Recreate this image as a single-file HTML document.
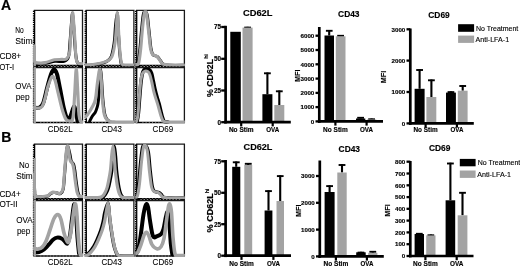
<!DOCTYPE html>
<html><head><meta charset="utf-8"><title>Figure</title>
<style>html,body{margin:0;padding:0;background:#fff}svg{display:block;filter:blur(0.35px)}</style></head>
<body>
<svg width="520" height="267" viewBox="0 0 520 267">
<rect width="520" height="267" fill="#fff"/>
<defs>
<clipPath id="cA00"><rect x="33.1" y="10.3" width="49.9" height="55.1"/></clipPath>
<clipPath id="cA01"><rect x="84.8" y="10.3" width="49.6" height="56.2"/></clipPath>
<clipPath id="cA02"><rect x="135.2" y="10.3" width="49.7" height="56.2"/></clipPath>
<clipPath id="cA10"><rect x="33.1" y="67.6" width="49.9" height="56.0"/></clipPath>
<clipPath id="cA11"><rect x="84.8" y="67.6" width="49.6" height="56.0"/></clipPath>
<clipPath id="cA12"><rect x="135.2" y="67.6" width="49.7" height="56.0"/></clipPath>
<clipPath id="cB00"><rect x="33.1" y="144.1" width="49.9" height="54.4"/></clipPath>
<clipPath id="cB01"><rect x="84.8" y="144.1" width="49.6" height="55.5"/></clipPath>
<clipPath id="cB02"><rect x="135.2" y="144.1" width="49.7" height="55.5"/></clipPath>
<clipPath id="cB10"><rect x="33.1" y="200.7" width="49.9" height="56.4"/></clipPath>
<clipPath id="cB11"><rect x="84.8" y="200.7" width="49.6" height="56.4"/></clipPath>
<clipPath id="cB12"><rect x="135.2" y="200.7" width="49.7" height="56.4"/></clipPath>
</defs>
<path d="M33.8 10.3H82.5V65.8" fill="none" stroke="#1a1a1a" stroke-width="1.3"/>
<line x1="33.3" y1="65.6" x2="83.0" y2="65.6" stroke="#000" stroke-width="1.5"/>
<line x1="34.6" y1="10.3" x2="34.6" y2="65.8" stroke="#000" stroke-width="1.3"/>
<line x1="33.6" y1="10.8" x2="33.6" y2="65.8" stroke="#000" stroke-width="1.4" stroke-dasharray="1.3 0.9"/>
<line x1="33.3" y1="66.8" x2="83.0" y2="66.8" stroke="#000" stroke-width="2.3"/>
<line x1="38.3" y1="66.7" x2="79.5" y2="66.7" stroke="#fff" stroke-width="0.8" stroke-dasharray="1.4 1.8" opacity="0.9"/>
<line x1="40.3" y1="65.6" x2="78.5" y2="65.6" stroke="#fff" stroke-width="0.6" stroke-dasharray="1 2.2" opacity="0.8"/>
<path d="M34.0 63.3 C35.8 63.3 41.5 63.6 45.0 63.3 C48.5 63.0 51.8 61.6 55.0 61.3 C58.2 61.0 61.8 62.1 64.0 61.3 C66.2 60.6 67.5 60.1 68.5 56.8 C69.5 53.6 69.5 47.2 70.0 41.9 C70.5 36.6 70.9 29.8 71.3 25.0 C71.7 20.1 72.1 13.0 72.5 13.0 C72.9 13.0 73.2 20.1 73.6 25.0 C74.0 29.8 74.3 36.7 74.7 41.9 C75.1 47.0 75.4 52.3 75.9 55.8 C76.4 59.3 76.5 61.4 77.5 62.8 C78.5 64.2 81.2 64.0 82.0 64.3" fill="none" stroke="#000" stroke-width="3.0" stroke-linejoin="round" stroke-linecap="round" clip-path="url(#cA00)"/>
<line x1="34.6" y1="46.0" x2="34.6" y2="66.3" stroke="#a3a3a3" stroke-width="2.6"/>
<line x1="33.5" y1="46.0" x2="33.5" y2="65.8" stroke="#333" stroke-width="1.2" stroke-dasharray="0.8 1.6"/>
<path d="M34.0 45.9 C34.1 48.2 34.2 57.0 34.5 59.8 C34.8 62.6 34.2 62.3 36.0 62.8 C37.8 63.3 41.9 63.1 45.0 62.6 C48.1 62.1 51.6 60.3 54.4 59.8 C57.2 59.3 60.0 59.6 62.0 59.4 C64.0 59.3 65.3 59.9 66.6 58.8 C67.8 57.7 68.8 56.0 69.5 52.8 C70.2 49.7 70.2 44.7 70.5 39.9 C70.8 35.1 71.2 28.5 71.6 24.0 C72.0 19.4 72.3 12.5 72.7 12.5 C73.1 12.5 73.4 19.4 73.8 24.0 C74.2 28.5 74.6 34.9 74.9 39.9 C75.2 44.9 75.4 50.2 75.7 53.8 C76.0 57.5 76.2 60.1 76.9 61.8 C77.6 63.5 79.1 63.5 80.0 63.8 C80.9 64.1 82.1 63.8 82.5 63.8" fill="none" stroke="#a3a3a3" stroke-width="3.1" stroke-linejoin="round" stroke-linecap="round" clip-path="url(#cA00)"/>
<path d="M85.5 10.3H133.9V65.8" fill="none" stroke="#1a1a1a" stroke-width="1.3"/>
<line x1="85.0" y1="65.6" x2="134.4" y2="65.6" stroke="#000" stroke-width="1.5"/>
<line x1="86.3" y1="10.3" x2="86.3" y2="65.8" stroke="#000" stroke-width="1.3"/>
<line x1="85.3" y1="10.8" x2="85.3" y2="65.8" stroke="#000" stroke-width="1.4" stroke-dasharray="1.3 0.9"/>
<line x1="85.0" y1="66.8" x2="134.4" y2="66.8" stroke="#000" stroke-width="2.3"/>
<line x1="90.0" y1="66.7" x2="130.9" y2="66.7" stroke="#fff" stroke-width="0.8" stroke-dasharray="1.4 1.8" opacity="0.9"/>
<line x1="92.0" y1="65.6" x2="129.9" y2="65.6" stroke="#fff" stroke-width="0.6" stroke-dasharray="1 2.2" opacity="0.8"/>
<path d="M84.6 65.6 C85.8 65.5 89.7 65.4 92.1 65.1 C94.5 64.8 97.1 64.3 99.1 63.9 C101.1 63.5 102.6 63.1 104.1 62.6 C105.6 62.0 106.9 61.4 108.1 60.5 C109.3 59.6 110.3 58.8 111.1 56.9 C111.9 55.1 112.5 52.3 113.1 49.3 C113.7 46.3 114.2 43.2 114.6 39.1 C115.0 35.0 115.1 29.2 115.6 24.8 C116.0 20.5 116.9 13.1 117.3 13.1 C117.7 13.1 117.8 20.5 118.0 24.8 C118.2 29.2 118.5 34.3 118.8 39.1 C119.1 43.9 119.4 49.5 119.8 53.4 C120.2 57.3 120.5 60.5 121.0 62.6 C121.5 64.6 120.8 64.9 122.8 65.4 C124.8 65.9 131.6 65.6 133.3 65.6" fill="none" stroke="#000" stroke-width="3.0" stroke-linejoin="round" stroke-linecap="round" clip-path="url(#cA01)"/>
<path d="M85.5 65.0 C86.8 64.9 90.6 64.8 93.0 64.5 C95.4 64.2 98.0 63.7 100.0 63.3 C102.0 62.8 103.5 62.5 105.0 61.9 C106.5 61.4 107.8 60.8 109.0 59.9 C110.2 59.0 111.2 58.2 112.0 56.3 C112.8 54.5 113.4 51.7 114.0 48.7 C114.6 45.7 115.1 42.6 115.5 38.5 C115.9 34.4 116.2 28.6 116.5 24.2 C116.8 19.9 117.0 12.5 117.3 12.5 C117.6 12.5 117.9 19.9 118.2 24.2 C118.5 28.6 118.7 33.7 119.0 38.5 C119.3 43.3 119.6 48.9 120.0 52.8 C120.4 56.7 120.7 59.9 121.2 61.9 C121.7 63.9 121.0 64.3 123.0 64.8 C125.0 65.3 131.8 65.0 133.5 65.0" fill="none" stroke="#a3a3a3" stroke-width="3.1" stroke-linejoin="round" stroke-linecap="round" clip-path="url(#cA01)"/>
<path d="M135.9 10.3H184.4V65.8" fill="none" stroke="#1a1a1a" stroke-width="1.3"/>
<line x1="135.4" y1="65.6" x2="184.9" y2="65.6" stroke="#000" stroke-width="1.5"/>
<line x1="136.7" y1="10.3" x2="136.7" y2="65.8" stroke="#000" stroke-width="1.3"/>
<line x1="135.7" y1="10.8" x2="135.7" y2="65.8" stroke="#000" stroke-width="1.4" stroke-dasharray="1.3 0.9"/>
<line x1="135.4" y1="66.8" x2="184.9" y2="66.8" stroke="#000" stroke-width="2.3"/>
<line x1="140.4" y1="66.7" x2="181.4" y2="66.7" stroke="#fff" stroke-width="0.8" stroke-dasharray="1.4 1.8" opacity="0.9"/>
<line x1="142.4" y1="65.6" x2="180.4" y2="65.6" stroke="#fff" stroke-width="0.6" stroke-dasharray="1 2.2" opacity="0.8"/>
<path d="M134.7 64.8 C135.2 64.6 136.9 66.1 137.7 63.8 C138.5 61.4 139.0 56.6 139.7 50.7 C140.4 44.8 141.0 34.8 141.7 28.5 C142.4 22.1 142.8 15.2 143.7 12.8 C144.6 10.4 146.1 11.4 147.0 14.3 C147.9 17.3 148.3 24.8 149.0 30.5 C149.7 36.2 150.3 44.6 151.0 48.6 C151.7 52.7 151.9 53.4 153.0 54.7 C154.1 56.0 156.2 55.7 157.5 56.7 C158.8 57.7 159.5 59.5 160.5 60.8 C161.5 62.0 161.8 63.5 163.5 64.3 C165.2 65.1 167.0 65.1 170.5 65.3 C174.0 65.5 182.2 65.3 184.5 65.3" fill="none" stroke="#000" stroke-width="3.0" stroke-linejoin="round" stroke-linecap="round" clip-path="url(#cA02)"/>
<path d="M135.5 64.5 C136.0 64.3 137.7 65.8 138.5 63.5 C139.3 61.1 139.8 56.2 140.5 50.4 C141.2 44.5 141.8 34.5 142.5 28.1 C143.2 21.8 143.8 14.9 144.5 12.5 C145.2 10.1 145.8 11.1 146.5 14.0 C147.2 17.0 147.8 24.4 148.5 30.2 C149.2 35.9 149.8 44.3 150.5 48.3 C151.2 52.4 151.4 53.1 152.5 54.4 C153.6 55.7 155.8 55.4 157.0 56.4 C158.2 57.4 159.0 59.2 160.0 60.5 C161.0 61.7 161.3 63.2 163.0 64.0 C164.7 64.7 166.5 64.8 170.0 65.0 C173.5 65.2 181.7 65.0 184.0 65.0" fill="none" stroke="#a3a3a3" stroke-width="3.2" stroke-linejoin="round" stroke-linecap="round" clip-path="url(#cA02)"/>
<path d="M33.8 67.6H82.5V122.7" fill="none" stroke="#1a1a1a" stroke-width="1.3"/>
<line x1="33.3" y1="122.5" x2="83.0" y2="122.5" stroke="#000" stroke-width="1.5"/>
<line x1="34.6" y1="67.6" x2="34.6" y2="122.7" stroke="#000" stroke-width="1.3"/>
<line x1="33.6" y1="68.1" x2="33.6" y2="122.7" stroke="#000" stroke-width="1.4" stroke-dasharray="1.3 0.9"/>
<line x1="40.3" y1="122.5" x2="78.5" y2="122.5" stroke="#fff" stroke-width="0.6" stroke-dasharray="1 2.2" opacity="0.8"/>
<path d="M34.0 107.7 C34.8 107.7 37.5 108.3 39.0 107.7 C40.5 107.0 41.7 106.8 43.0 103.6 C44.3 100.4 45.7 93.3 47.0 88.3 C48.3 83.4 49.8 77.2 51.0 74.1 C52.2 71.0 53.0 69.5 54.0 69.5 C55.0 69.5 56.0 71.0 57.0 74.1 C58.0 77.2 58.8 82.6 60.0 88.3 C61.2 94.1 62.7 103.4 64.0 108.7 C65.3 113.9 66.8 118.8 68.0 119.9 C69.2 120.9 70.0 117.0 71.0 114.8 C72.0 112.6 73.2 107.0 74.0 106.6 C74.8 106.3 75.4 110.3 76.0 112.7 C76.6 115.2 77.3 120.0 77.6 121.4" fill="none" stroke="#000" stroke-width="4.0" stroke-linejoin="round" stroke-linecap="round" clip-path="url(#cA10)"/>
<line x1="34.6" y1="67.0" x2="34.6" y2="123.2" stroke="#a3a3a3" stroke-width="2.6"/>
<line x1="33.5" y1="67.0" x2="33.5" y2="122.7" stroke="#333" stroke-width="1.2" stroke-dasharray="0.8 1.6"/>
<path d="M34.0 107.7 C34.7 107.7 36.7 108.3 38.0 108.2 C39.3 108.0 40.8 108.3 42.0 106.6 C43.2 105.0 44.0 101.9 45.0 98.5 C46.0 95.1 46.8 89.9 48.0 86.3 C49.2 82.7 50.8 77.7 52.0 76.6 C53.2 75.6 54.0 77.6 55.0 80.2 C56.0 82.8 56.8 87.7 58.0 92.4 C59.2 97.1 60.7 104.2 62.0 108.7 C63.3 113.2 64.7 117.3 66.0 119.4 C67.3 121.4 68.8 121.1 70.0 120.9 C71.2 120.6 72.2 122.6 73.0 117.8 C73.8 113.1 74.2 100.6 74.8 92.4 C75.3 84.2 75.8 68.5 76.3 68.5 C76.8 68.5 77.3 84.7 77.8 92.4 C78.2 100.1 78.5 109.9 79.0 114.8 C79.5 119.6 79.9 120.2 80.5 121.4 C81.1 122.6 82.2 121.8 82.5 121.9" fill="none" stroke="#a3a3a3" stroke-width="3.2" stroke-linejoin="round" stroke-linecap="round" clip-path="url(#cA10)"/>
<path d="M85.5 67.6H133.9V122.7" fill="none" stroke="#1a1a1a" stroke-width="1.3"/>
<line x1="85.0" y1="122.5" x2="134.4" y2="122.5" stroke="#000" stroke-width="1.5"/>
<line x1="86.3" y1="67.6" x2="86.3" y2="122.7" stroke="#000" stroke-width="1.3"/>
<line x1="85.3" y1="68.1" x2="85.3" y2="122.7" stroke="#000" stroke-width="1.4" stroke-dasharray="1.3 0.9"/>
<line x1="92.0" y1="122.5" x2="129.9" y2="122.5" stroke="#fff" stroke-width="0.6" stroke-dasharray="1 2.2" opacity="0.8"/>
<path d="M89.6 121.3 C90.0 120.5 91.2 118.0 92.1 116.5 C93.0 115.0 94.3 114.0 95.2 112.4 C96.1 110.9 96.7 108.9 97.2 107.2 C97.7 105.5 98.0 103.8 98.2 102.1 C98.5 100.4 98.5 99.8 98.7 97.0 C98.9 94.2 99.1 89.8 99.3 85.3 C99.5 80.8 99.7 72.2 100.0 70.0 C100.3 67.8 100.6 70.2 100.9 72.1 C101.2 73.9 101.5 78.0 101.7 81.2 C101.9 84.5 102.1 88.7 102.3 91.4 C102.5 94.1 102.5 94.9 102.7 97.5 C102.9 100.2 103.4 104.4 103.7 107.2 C104.0 110.0 104.3 112.4 104.8 114.4 C105.3 116.3 105.9 117.9 106.8 119.1 C107.7 120.4 109.5 121.2 110.0 121.6" fill="none" stroke="#000" stroke-width="3.0" stroke-linejoin="round" stroke-linecap="round" clip-path="url(#cA11)"/>
<path d="M85.5 117.1 C85.8 116.7 86.9 115.4 87.5 114.7 C88.1 113.9 88.3 113.6 89.1 112.4 C89.9 111.2 91.2 109.0 92.1 107.3 C93.0 105.6 94.0 104.1 94.7 102.1 C95.4 100.2 95.7 97.8 96.0 95.5 C96.3 93.2 96.5 90.9 96.8 88.4 C97.1 85.8 97.4 82.9 97.8 80.2 C98.2 77.5 98.7 73.9 99.0 72.1 C99.3 70.2 99.5 69.0 99.8 69.0 C100.1 69.0 100.3 70.0 100.6 72.1 C100.8 74.1 101.1 78.0 101.3 81.2 C101.5 84.5 101.6 88.7 101.8 91.4 C102.0 94.1 102.0 94.9 102.2 97.5 C102.4 100.2 102.9 104.4 103.2 107.2 C103.5 110.0 103.8 112.4 104.3 114.4 C104.8 116.3 105.3 117.8 106.3 118.9 C107.3 120.1 108.7 121.0 110.3 121.5 C111.9 122.0 112.1 121.9 116.0 122.0 C119.9 122.1 130.9 122.0 133.9 122.0" fill="none" stroke="#a3a3a3" stroke-width="3.2" stroke-linejoin="round" stroke-linecap="round" clip-path="url(#cA11)"/>
<path d="M135.9 67.6H184.4V122.7" fill="none" stroke="#1a1a1a" stroke-width="1.3"/>
<line x1="135.4" y1="122.5" x2="184.9" y2="122.5" stroke="#000" stroke-width="1.5"/>
<line x1="136.7" y1="67.6" x2="136.7" y2="122.7" stroke="#000" stroke-width="1.3"/>
<line x1="135.7" y1="68.1" x2="135.7" y2="122.7" stroke="#000" stroke-width="1.4" stroke-dasharray="1.3 0.9"/>
<line x1="142.4" y1="122.5" x2="180.4" y2="122.5" stroke="#fff" stroke-width="0.6" stroke-dasharray="1 2.2" opacity="0.8"/>
<path d="M137.0 121.5 C137.2 120.2 137.9 118.0 138.3 113.8 C138.8 109.7 139.2 102.1 139.7 96.5 C140.2 90.9 140.6 84.3 141.2 80.2 C141.8 76.0 142.3 73.4 143.0 71.5 C143.7 69.6 144.5 69.3 145.5 69.0 C146.5 68.7 148.0 68.8 149.0 69.5 C150.0 70.2 150.8 71.1 151.5 73.0 C152.2 75.0 152.7 78.5 153.3 81.2 C153.9 83.9 154.4 86.7 155.0 89.4 C155.6 92.0 156.3 94.6 157.0 97.0 C157.7 99.4 158.3 101.2 159.0 103.6 C159.7 106.1 160.4 109.3 161.0 111.8 C161.6 114.3 162.2 116.8 162.8 118.4 C163.4 120.1 163.6 121.2 164.5 121.8 C165.4 122.4 167.4 122.0 168.0 122.0" fill="none" stroke="#000" stroke-width="3.6" stroke-linejoin="round" stroke-linecap="round" clip-path="url(#cA12)"/>
<path d="M136.4 121.5 C136.6 120.6 137.3 119.7 137.8 115.9 C138.3 112.1 138.7 104.1 139.2 98.5 C139.7 92.9 140.1 86.3 140.6 82.2 C141.1 78.1 141.5 75.9 142.2 74.1 C142.8 72.2 143.5 71.7 144.5 71.3 C145.5 70.9 147.1 71.2 148.0 71.8 C148.9 72.4 149.4 73.3 150.0 75.1 C150.6 76.8 151.2 79.7 151.8 82.2 C152.4 84.8 152.9 87.8 153.5 90.4 C154.1 92.9 154.8 95.3 155.5 97.5 C156.2 99.7 156.8 101.4 157.5 103.6 C158.2 105.8 158.8 108.5 159.5 110.8 C160.2 113.1 160.8 115.7 161.5 117.4 C162.2 119.2 162.4 120.5 163.5 121.3 C164.6 122.1 164.5 121.9 168.0 122.0 C171.5 122.1 181.7 122.0 184.4 122.0" fill="none" stroke="#a3a3a3" stroke-width="3.0" stroke-linejoin="round" stroke-linecap="round" clip-path="url(#cA12)"/>
<path d="M33.8 144.1H82.5V198.9" fill="none" stroke="#1a1a1a" stroke-width="1.3"/>
<line x1="33.3" y1="198.7" x2="83.0" y2="198.7" stroke="#000" stroke-width="1.5"/>
<line x1="34.6" y1="144.1" x2="34.6" y2="198.9" stroke="#000" stroke-width="1.3"/>
<line x1="33.6" y1="144.6" x2="33.6" y2="198.9" stroke="#000" stroke-width="1.4" stroke-dasharray="1.3 0.9"/>
<line x1="33.3" y1="199.9" x2="83.0" y2="199.9" stroke="#000" stroke-width="2.3"/>
<line x1="38.3" y1="199.8" x2="79.5" y2="199.8" stroke="#fff" stroke-width="0.8" stroke-dasharray="1.4 1.8" opacity="0.9"/>
<line x1="40.3" y1="198.7" x2="78.5" y2="198.7" stroke="#fff" stroke-width="0.6" stroke-dasharray="1 2.2" opacity="0.8"/>
<path d="M34.2 174.6 C34.3 177.3 34.4 187.5 34.7 191.1 C35.0 194.8 34.1 195.6 36.2 196.5 C38.3 197.4 44.9 196.7 47.2 196.3 C49.5 195.9 49.2 194.7 50.2 194.1 C51.2 193.4 52.0 192.6 53.2 192.4 C54.4 192.2 56.0 192.9 57.2 193.1 C58.4 193.3 59.2 194.3 60.2 193.7 C61.2 193.0 62.4 192.9 63.2 189.2 C64.0 185.5 64.2 177.8 64.8 171.6 C65.3 165.5 66.0 156.4 66.5 152.1 C67.0 147.9 67.2 146.0 67.8 146.3 C68.4 146.6 69.3 151.7 69.9 154.1 C70.5 156.5 70.6 159.2 71.2 160.9 C71.8 162.6 73.0 162.8 73.6 164.4 C74.2 166.1 74.5 167.8 74.9 170.7 C75.3 173.5 75.7 177.8 76.2 181.4 C76.7 185.0 77.3 189.6 77.9 192.1 C78.5 194.6 79.0 195.7 79.9 196.5 C80.8 197.3 82.8 196.9 83.4 197.0" fill="none" stroke="#000" stroke-width="3.0" stroke-linejoin="round" stroke-linecap="round" clip-path="url(#cB00)"/>
<line x1="34.6" y1="158.0" x2="34.6" y2="199.4" stroke="#a3a3a3" stroke-width="2.6"/>
<line x1="33.5" y1="158.0" x2="33.5" y2="198.9" stroke="#333" stroke-width="1.2" stroke-dasharray="0.8 1.6"/>
<path d="M34.0 174.3 C34.1 177.0 34.2 187.2 34.5 190.8 C34.8 194.5 33.9 195.4 36.0 196.2 C38.1 197.1 44.7 196.4 47.0 196.0 C49.3 195.6 49.0 194.4 50.0 193.8 C51.0 193.1 51.8 192.3 53.0 192.1 C54.2 192.0 55.8 192.6 57.0 192.8 C58.2 193.0 59.0 194.0 60.0 193.4 C61.0 192.7 62.2 192.6 63.0 188.9 C63.8 185.2 64.0 177.5 64.6 171.3 C65.1 165.2 65.8 156.1 66.3 151.8 C66.8 147.6 67.3 145.7 67.8 146.0 C68.2 146.3 68.6 151.4 69.0 153.8 C69.4 156.2 69.7 158.9 70.3 160.6 C70.9 162.3 72.1 162.5 72.7 164.1 C73.3 165.8 73.6 167.5 74.0 170.4 C74.4 173.2 74.8 177.5 75.3 181.1 C75.8 184.7 76.4 189.3 77.0 191.8 C77.6 194.3 78.1 195.4 79.0 196.2 C79.9 197.0 81.9 196.6 82.5 196.7" fill="none" stroke="#a3a3a3" stroke-width="3.2" stroke-linejoin="round" stroke-linecap="round" clip-path="url(#cB00)"/>
<path d="M85.5 144.1H133.9V198.9" fill="none" stroke="#1a1a1a" stroke-width="1.3"/>
<line x1="85.0" y1="198.7" x2="134.4" y2="198.7" stroke="#000" stroke-width="1.5"/>
<line x1="86.3" y1="144.1" x2="86.3" y2="198.9" stroke="#000" stroke-width="1.3"/>
<line x1="85.3" y1="144.6" x2="85.3" y2="198.9" stroke="#000" stroke-width="1.4" stroke-dasharray="1.3 0.9"/>
<line x1="85.0" y1="199.9" x2="134.4" y2="199.9" stroke="#000" stroke-width="2.3"/>
<line x1="90.0" y1="199.8" x2="130.9" y2="199.8" stroke="#fff" stroke-width="0.8" stroke-dasharray="1.4 1.8" opacity="0.9"/>
<line x1="92.0" y1="198.7" x2="129.9" y2="198.7" stroke="#fff" stroke-width="0.6" stroke-dasharray="1 2.2" opacity="0.8"/>
<path d="M87.0 197.9 C89.1 197.9 96.8 197.9 99.5 197.7 C102.2 197.5 102.3 197.7 103.5 196.9 C104.7 196.1 105.7 194.5 106.5 192.9 C107.3 191.4 107.9 190.1 108.6 187.8 C109.3 185.4 109.9 182.0 110.5 179.0 C111.1 176.1 111.5 173.9 112.0 170.1 C112.5 166.2 112.8 160.1 113.2 156.1 C113.6 152.2 114.1 146.2 114.5 146.2 C114.9 146.2 115.3 152.2 115.7 156.1 C116.1 160.1 116.3 166.1 116.7 170.1 C117.1 174.0 117.5 177.0 117.9 180.0 C118.3 183.0 118.7 185.6 119.2 188.0 C119.7 190.4 120.3 192.8 121.0 194.4 C121.7 196.0 122.4 196.8 123.5 197.4 C124.6 198.0 125.6 197.8 127.5 197.9 C129.4 198.0 133.8 197.9 135.0 197.9" fill="none" stroke="#000" stroke-width="3.0" stroke-linejoin="round" stroke-linecap="round" clip-path="url(#cB01)"/>
<path d="M85.5 197.7 C87.6 197.7 95.2 197.7 98.0 197.5 C100.8 197.3 100.8 197.5 102.0 196.7 C103.2 195.9 104.2 194.3 105.0 192.7 C105.8 191.2 106.4 189.9 107.1 187.6 C107.8 185.2 108.4 181.8 109.0 178.8 C109.6 175.9 110.0 173.7 110.5 169.9 C111.0 166.1 111.3 159.9 111.7 155.9 C112.1 152.0 112.6 146.0 113.0 146.0 C113.4 146.0 113.8 152.0 114.2 155.9 C114.6 159.9 114.8 165.9 115.2 169.9 C115.6 173.8 116.0 176.8 116.4 179.8 C116.8 182.8 117.2 185.4 117.7 187.8 C118.2 190.2 118.8 192.6 119.5 194.2 C120.2 195.8 120.9 196.6 122.0 197.2 C123.1 197.8 124.1 197.6 126.0 197.7 C127.9 197.8 132.2 197.7 133.5 197.7" fill="none" stroke="#a3a3a3" stroke-width="3.2" stroke-linejoin="round" stroke-linecap="round" clip-path="url(#cB01)"/>
<path d="M135.9 144.1H184.4V198.9" fill="none" stroke="#1a1a1a" stroke-width="1.3"/>
<line x1="135.4" y1="198.7" x2="184.9" y2="198.7" stroke="#000" stroke-width="1.5"/>
<line x1="136.7" y1="144.1" x2="136.7" y2="198.9" stroke="#000" stroke-width="1.3"/>
<line x1="135.7" y1="144.6" x2="135.7" y2="198.9" stroke="#000" stroke-width="1.4" stroke-dasharray="1.3 0.9"/>
<line x1="135.4" y1="199.9" x2="184.9" y2="199.9" stroke="#000" stroke-width="2.3"/>
<line x1="140.4" y1="199.8" x2="181.4" y2="199.8" stroke="#fff" stroke-width="0.8" stroke-dasharray="1.4 1.8" opacity="0.9"/>
<line x1="142.4" y1="198.7" x2="180.4" y2="198.7" stroke="#fff" stroke-width="0.6" stroke-dasharray="1 2.2" opacity="0.8"/>
<path d="M134.6 197.2 C134.9 197.0 135.9 197.9 136.6 195.7 C137.3 193.5 137.9 189.4 138.6 183.8 C139.3 178.1 139.9 168.0 140.6 161.9 C141.3 155.8 141.8 149.7 142.6 147.0 C143.4 144.3 144.5 144.7 145.5 145.5 C146.5 146.3 147.6 147.6 148.4 152.0 C149.2 156.4 149.7 166.0 150.4 171.8 C151.1 177.6 151.7 183.5 152.4 186.8 C153.1 190.0 153.3 190.3 154.4 191.2 C155.5 192.2 157.7 192.0 158.9 192.5 C160.1 193.1 160.6 193.7 161.4 194.5 C162.2 195.3 162.3 196.7 163.9 197.2 C165.5 197.7 167.4 197.6 170.9 197.7 C174.4 197.8 182.6 197.7 184.9 197.7" fill="none" stroke="#000" stroke-width="3.2" stroke-linejoin="round" stroke-linecap="round" clip-path="url(#cB02)"/>
<path d="M135.5 197.2 C135.8 197.0 136.8 197.9 137.5 195.7 C138.2 193.5 138.8 189.4 139.5 183.8 C140.2 178.1 140.8 168.0 141.5 161.9 C142.2 155.8 142.8 149.7 143.5 147.0 C144.2 144.3 144.8 144.7 145.5 145.5 C146.2 146.3 146.8 147.6 147.5 152.0 C148.2 156.4 148.8 166.0 149.5 171.8 C150.2 177.6 150.8 183.5 151.5 186.8 C152.2 190.0 152.4 190.3 153.5 191.2 C154.6 192.2 156.8 192.0 158.0 192.5 C159.2 193.1 159.7 193.7 160.5 194.5 C161.3 195.3 161.4 196.7 163.0 197.2 C164.6 197.7 166.5 197.6 170.0 197.7 C173.5 197.8 181.7 197.7 184.0 197.7" fill="none" stroke="#a3a3a3" stroke-width="3.0" stroke-linejoin="round" stroke-linecap="round" clip-path="url(#cB02)"/>
<path d="M33.8 200.7H82.5V256.2" fill="none" stroke="#1a1a1a" stroke-width="1.3"/>
<line x1="33.3" y1="256.0" x2="83.0" y2="256.0" stroke="#000" stroke-width="1.5"/>
<line x1="34.6" y1="200.7" x2="34.6" y2="256.2" stroke="#000" stroke-width="1.3"/>
<line x1="33.6" y1="201.2" x2="33.6" y2="256.2" stroke="#000" stroke-width="1.4" stroke-dasharray="1.3 0.9"/>
<line x1="40.3" y1="256.0" x2="78.5" y2="256.0" stroke="#fff" stroke-width="0.6" stroke-dasharray="1 2.2" opacity="0.8"/>
<path d="M34.0 252.6 C34.8 252.5 37.3 252.6 39.0 252.1 C40.7 251.6 42.3 250.8 44.0 249.5 C45.7 248.2 47.5 246.0 49.0 244.3 C50.5 242.7 51.7 240.8 53.0 239.7 C54.3 238.6 55.5 237.8 57.0 237.6 C58.5 237.4 60.7 238.0 62.0 238.7 C63.3 239.3 64.1 241.0 65.0 241.8 C65.9 242.5 66.7 244.4 67.5 243.3 C68.3 242.2 69.2 239.2 70.0 235.0 C70.8 230.9 71.3 223.6 72.0 218.5 C72.7 213.4 73.4 205.6 74.0 204.5 C74.6 203.5 75.2 206.8 75.8 212.3 C76.4 217.7 76.9 230.2 77.4 237.1 C77.9 244.0 78.7 250.9 79.0 253.6" fill="none" stroke="#000" stroke-width="3.9" stroke-linejoin="round" stroke-linecap="round" clip-path="url(#cB10)"/>
<line x1="34.6" y1="200.0" x2="34.6" y2="256.7" stroke="#a3a3a3" stroke-width="2.6"/>
<line x1="33.5" y1="200.0" x2="33.5" y2="256.2" stroke="#333" stroke-width="1.2" stroke-dasharray="0.8 1.6"/>
<path d="M34.0 248.5 C34.7 248.6 36.7 249.2 38.0 249.0 C39.3 248.8 40.7 248.7 42.0 247.4 C43.3 246.1 44.7 244.2 46.0 241.2 C47.3 238.3 48.7 233.7 50.0 229.9 C51.3 226.1 52.7 221.0 54.0 218.5 C55.3 215.9 56.8 214.5 58.0 214.7 C59.2 214.8 60.0 216.5 61.0 219.5 C62.0 222.6 62.9 229.2 64.0 233.0 C65.1 236.8 66.8 241.6 67.8 242.3 C68.8 243.0 69.2 240.7 70.0 237.1 C70.8 233.5 71.7 226.1 72.5 220.5 C73.3 215.0 74.3 205.4 75.0 204.0 C75.7 202.6 76.2 206.8 76.7 212.3 C77.2 217.8 77.8 230.2 78.3 237.1 C78.8 244.0 79.3 250.6 80.0 253.6 C80.7 256.7 82.1 254.9 82.5 255.2" fill="none" stroke="#a3a3a3" stroke-width="3.7" stroke-linejoin="round" stroke-linecap="round" clip-path="url(#cB10)"/>
<path d="M85.5 200.7H133.9V256.2" fill="none" stroke="#1a1a1a" stroke-width="1.3"/>
<line x1="85.0" y1="256.0" x2="134.4" y2="256.0" stroke="#000" stroke-width="1.5"/>
<line x1="86.3" y1="200.7" x2="86.3" y2="256.2" stroke="#000" stroke-width="1.3"/>
<line x1="85.3" y1="201.2" x2="85.3" y2="256.2" stroke="#000" stroke-width="1.4" stroke-dasharray="1.3 0.9"/>
<line x1="92.0" y1="256.0" x2="129.9" y2="256.0" stroke="#fff" stroke-width="0.6" stroke-dasharray="1 2.2" opacity="0.8"/>
<path d="M84.1 255.8 C84.5 255.6 85.7 255.4 86.6 254.8 C87.5 254.1 88.4 253.5 89.6 252.1 C90.8 250.8 92.3 248.8 93.6 246.7 C94.8 244.6 95.9 242.3 97.1 239.6 C98.3 236.8 99.8 233.1 100.8 230.2 C101.8 227.2 102.4 224.8 103.1 221.8 C103.8 218.9 104.0 215.5 104.8 212.4 C105.6 209.3 107.3 203.0 108.0 203.0 C108.7 203.0 108.8 209.3 109.1 212.4 C109.4 215.5 109.7 218.9 110.1 221.8 C110.5 224.8 110.8 227.2 111.3 230.2 C111.8 233.1 112.2 236.6 112.8 239.6 C113.3 242.6 113.9 245.6 114.6 248.0 C115.3 250.3 115.9 252.4 116.8 253.7 C117.7 255.0 117.0 255.5 119.8 255.8 C122.5 256.1 131.1 255.8 133.3 255.8" fill="none" stroke="#000" stroke-width="3.4" stroke-linejoin="round" stroke-linecap="round" clip-path="url(#cB11)"/>
<path d="M85.5 255.8 C85.9 255.6 87.1 255.4 88.0 254.8 C88.9 254.1 89.8 253.5 91.0 252.1 C92.2 250.8 93.8 248.8 95.0 246.7 C96.2 244.6 97.3 242.3 98.5 239.6 C99.7 236.8 101.2 233.1 102.2 230.2 C103.2 227.2 103.8 224.8 104.5 221.8 C105.2 218.9 105.6 215.5 106.2 212.4 C106.8 209.3 107.5 203.0 108.0 203.0 C108.5 203.0 108.9 209.3 109.3 212.4 C109.7 215.5 109.9 218.9 110.3 221.8 C110.7 224.8 111.0 227.2 111.5 230.2 C112.0 233.1 112.5 236.6 113.0 239.6 C113.5 242.6 114.1 245.6 114.8 248.0 C115.5 250.3 116.1 252.4 117.0 253.7 C117.9 255.0 117.2 255.5 120.0 255.8 C122.8 256.1 131.2 255.8 133.5 255.8" fill="none" stroke="#a3a3a3" stroke-width="3.2" stroke-linejoin="round" stroke-linecap="round" clip-path="url(#cB11)"/>
<path d="M135.9 200.7H184.4V256.2" fill="none" stroke="#1a1a1a" stroke-width="1.3"/>
<line x1="135.4" y1="256.0" x2="184.9" y2="256.0" stroke="#000" stroke-width="1.5"/>
<line x1="136.7" y1="200.7" x2="136.7" y2="256.2" stroke="#000" stroke-width="1.3"/>
<line x1="135.7" y1="201.2" x2="135.7" y2="256.2" stroke="#000" stroke-width="1.4" stroke-dasharray="1.3 0.9"/>
<line x1="142.4" y1="256.0" x2="180.4" y2="256.0" stroke="#fff" stroke-width="0.6" stroke-dasharray="1 2.2" opacity="0.8"/>
<path d="M136.0 253.9 C136.4 253.1 137.7 252.2 138.5 248.7 C139.3 245.3 140.2 238.8 141.0 233.1 C141.8 227.4 142.7 219.2 143.5 214.4 C144.3 209.6 145.2 205.7 146.0 204.5 C146.8 203.3 147.3 204.4 148.0 207.1 C148.7 209.8 149.2 215.8 150.0 220.6 C150.8 225.5 151.8 233.6 153.0 236.2 C154.2 238.8 155.7 236.6 157.0 236.2 C158.3 235.9 159.9 235.4 161.0 234.2 C162.1 232.9 162.7 231.9 163.5 229.0 C164.3 226.0 165.3 219.2 166.0 216.5 C166.7 213.7 167.1 211.3 167.7 212.3 C168.2 213.3 168.8 217.5 169.3 222.7 C169.8 227.9 170.3 238.2 170.8 243.5 C171.3 248.8 172.1 252.6 172.3 254.5" fill="none" stroke="#000" stroke-width="4.0" stroke-linejoin="round" stroke-linecap="round" clip-path="url(#cB12)"/>
<path d="M135.5 253.9 C135.9 253.6 137.1 253.4 138.0 251.9 C138.9 250.3 140.0 247.3 141.0 244.6 C142.0 241.8 143.1 237.3 144.0 235.2 C144.9 233.2 145.8 232.1 146.6 232.3 C147.4 232.5 148.1 234.2 149.0 236.2 C149.9 238.3 150.7 242.5 152.0 244.6 C153.3 246.7 155.3 248.4 156.8 248.7 C158.3 249.1 159.8 248.4 161.0 246.7 C162.2 244.9 163.1 242.7 164.0 238.3 C164.9 234.0 165.8 226.0 166.5 220.6 C167.2 215.3 167.9 208.8 168.5 206.1 C169.1 203.4 169.5 203.5 170.0 204.5 C170.5 205.5 171.0 206.8 171.5 212.3 C172.0 217.8 172.4 230.3 173.0 237.3 C173.6 244.2 174.2 250.9 175.0 253.9 C175.8 257.0 176.5 255.2 178.0 255.5 C179.5 255.8 183.0 255.5 184.0 255.5" fill="none" stroke="#a3a3a3" stroke-width="3.6" stroke-linejoin="round" stroke-linecap="round" clip-path="url(#cB12)"/>
<text x="0.9" y="10.1" font-size="14.00" font-family="Liberation Sans, Arial, sans-serif" text-anchor="start" font-weight="bold" fill="#000" stroke="#000" stroke-width="0.20">A</text>
<text x="1.2" y="142.0" font-size="14.00" font-family="Liberation Sans, Arial, sans-serif" text-anchor="start" font-weight="bold" fill="#000" stroke="#000" stroke-width="0.20">B</text>
<text x="47.8" y="132.2" font-size="8.20" font-family="Liberation Sans, Arial, sans-serif" text-anchor="start" font-weight="normal" fill="#000" textLength="24.8" lengthAdjust="spacingAndGlyphs" stroke="#000" stroke-width="0.08">CD62L</text>
<text x="101.5" y="132.2" font-size="8.20" font-family="Liberation Sans, Arial, sans-serif" text-anchor="start" font-weight="normal" fill="#000" textLength="20.3" lengthAdjust="spacingAndGlyphs" stroke="#000" stroke-width="0.08">CD43</text>
<text x="152.6" y="132.2" font-size="8.20" font-family="Liberation Sans, Arial, sans-serif" text-anchor="start" font-weight="normal" fill="#000" textLength="20.5" lengthAdjust="spacingAndGlyphs" stroke="#000" stroke-width="0.08">CD69</text>
<text x="47.8" y="265.4" font-size="8.20" font-family="Liberation Sans, Arial, sans-serif" text-anchor="start" font-weight="normal" fill="#000" textLength="24.8" lengthAdjust="spacingAndGlyphs" stroke="#000" stroke-width="0.08">CD62L</text>
<text x="101.5" y="265.4" font-size="8.20" font-family="Liberation Sans, Arial, sans-serif" text-anchor="start" font-weight="normal" fill="#000" textLength="20.3" lengthAdjust="spacingAndGlyphs" stroke="#000" stroke-width="0.08">CD43</text>
<text x="152.6" y="265.4" font-size="8.20" font-family="Liberation Sans, Arial, sans-serif" text-anchor="start" font-weight="normal" fill="#000" textLength="20.5" lengthAdjust="spacingAndGlyphs" stroke="#000" stroke-width="0.08">CD69</text>
<text x="15.3" y="33.0" font-size="8.30" font-family="Liberation Sans, Arial, sans-serif" text-anchor="start" font-weight="normal" fill="#000" textLength="8.5" lengthAdjust="spacingAndGlyphs" stroke="#000" stroke-width="0.08">No</text>
<text x="15.3" y="44.3" font-size="8.30" font-family="Liberation Sans, Arial, sans-serif" text-anchor="start" font-weight="normal" fill="#000" textLength="17.3" lengthAdjust="spacingAndGlyphs" stroke="#000" stroke-width="0.08">Stim</text>
<text x="-0.6" y="58.9" font-size="8.30" font-family="Liberation Sans, Arial, sans-serif" text-anchor="start" font-weight="normal" fill="#000" textLength="21.9" lengthAdjust="spacingAndGlyphs" stroke="#000" stroke-width="0.08">CD8+</text>
<text x="-0.6" y="69.9" font-size="8.30" font-family="Liberation Sans, Arial, sans-serif" text-anchor="start" font-weight="normal" fill="#000" textLength="14.6" lengthAdjust="spacingAndGlyphs" stroke="#000" stroke-width="0.08">OT-I</text>
<text x="15.3" y="88.9" font-size="8.30" font-family="Liberation Sans, Arial, sans-serif" text-anchor="start" font-weight="normal" fill="#000" textLength="16.2" lengthAdjust="spacingAndGlyphs" stroke="#000" stroke-width="0.08">OVA</text>
<text x="15.7" y="100.2" font-size="8.30" font-family="Liberation Sans, Arial, sans-serif" text-anchor="start" font-weight="normal" fill="#000" textLength="14.0" lengthAdjust="spacingAndGlyphs" stroke="#000" stroke-width="0.08">pep</text>
<text x="19.0" y="167.5" font-size="8.30" font-family="Liberation Sans, Arial, sans-serif" text-anchor="start" font-weight="normal" fill="#000" textLength="10.2" lengthAdjust="spacingAndGlyphs" stroke="#000" stroke-width="0.08">No</text>
<text x="16.2" y="179.2" font-size="8.30" font-family="Liberation Sans, Arial, sans-serif" text-anchor="start" font-weight="normal" fill="#000" textLength="16.4" lengthAdjust="spacingAndGlyphs" stroke="#000" stroke-width="0.08">Stim</text>
<text x="-0.6" y="197.2" font-size="8.30" font-family="Liberation Sans, Arial, sans-serif" text-anchor="start" font-weight="normal" fill="#000" textLength="21.3" lengthAdjust="spacingAndGlyphs" stroke="#000" stroke-width="0.08">CD4+</text>
<text x="-0.6" y="207.3" font-size="8.30" font-family="Liberation Sans, Arial, sans-serif" text-anchor="start" font-weight="normal" fill="#000" textLength="18.1" lengthAdjust="spacingAndGlyphs" stroke="#000" stroke-width="0.08">OT-II</text>
<text x="16.2" y="223.4" font-size="8.30" font-family="Liberation Sans, Arial, sans-serif" text-anchor="start" font-weight="normal" fill="#000" textLength="16.4" lengthAdjust="spacingAndGlyphs" stroke="#000" stroke-width="0.08">OVA</text>
<text x="16.9" y="234.2" font-size="8.30" font-family="Liberation Sans, Arial, sans-serif" text-anchor="start" font-weight="normal" fill="#000" textLength="13.4" lengthAdjust="spacingAndGlyphs" stroke="#000" stroke-width="0.08">pep</text>
<rect x="230.3" y="31.8" width="10.5" height="90.4" fill="#000"/>
<line x1="247.6" y1="27.6" x2="247.6" y2="26.8" stroke="#000" stroke-width="2.1"/>
<line x1="244.2" y1="27.6" x2="251.0" y2="27.6" stroke="#000" stroke-width="1.9"/>
<rect x="242.5" y="27.6" width="10.1" height="94.6" fill="#a3a3a3"/>
<line x1="267.4" y1="94.2" x2="267.4" y2="72.5" stroke="#000" stroke-width="2.1"/>
<line x1="264.0" y1="73.3" x2="270.8" y2="73.3" stroke="#000" stroke-width="1.9"/>
<rect x="262.4" y="94.2" width="10.0" height="28.0" fill="#000"/>
<line x1="279.3" y1="105.0" x2="279.3" y2="90.5" stroke="#000" stroke-width="2.1"/>
<line x1="275.9" y1="91.3" x2="282.7" y2="91.3" stroke="#000" stroke-width="1.9"/>
<rect x="274.3" y="105.0" width="10.0" height="17.2" fill="#a3a3a3"/>
<line x1="225.6" y1="25.8" x2="225.6" y2="123.5" stroke="#000" stroke-width="2.7"/>
<line x1="224.2" y1="122.2" x2="290.8" y2="122.2" stroke="#000" stroke-width="2.7"/>
<line x1="221.2" y1="27.0" x2="225.6" y2="27.0" stroke="#000" stroke-width="2.3"/>
<text x="221.1" y="29.3" font-size="6.40" font-family="Liberation Sans, Arial, sans-serif" text-anchor="end" font-weight="bold" fill="#000" stroke="#000" stroke-width="0.15">75</text>
<line x1="221.2" y1="58.8" x2="225.6" y2="58.8" stroke="#000" stroke-width="2.3"/>
<text x="221.1" y="61.1" font-size="6.40" font-family="Liberation Sans, Arial, sans-serif" text-anchor="end" font-weight="bold" fill="#000" stroke="#000" stroke-width="0.15">50</text>
<line x1="221.2" y1="90.5" x2="225.6" y2="90.5" stroke="#000" stroke-width="2.3"/>
<text x="221.1" y="92.8" font-size="6.40" font-family="Liberation Sans, Arial, sans-serif" text-anchor="end" font-weight="bold" fill="#000" stroke="#000" stroke-width="0.15">25</text>
<line x1="221.2" y1="122.2" x2="225.6" y2="122.2" stroke="#000" stroke-width="2.3"/>
<text x="221.1" y="124.5" font-size="6.40" font-family="Liberation Sans, Arial, sans-serif" text-anchor="end" font-weight="bold" fill="#000" stroke="#000" stroke-width="0.15">0</text>
<line x1="241.2" y1="122.2" x2="241.2" y2="126.4" stroke="#000" stroke-width="2.2"/>
<text x="228.9" y="131.8" font-size="6.30" font-family="Liberation Sans, Arial, sans-serif" text-anchor="start" font-weight="bold" fill="#000" textLength="24.6" lengthAdjust="spacingAndGlyphs" stroke="#000" stroke-width="0.15">No Stim</text>
<line x1="272.7" y1="122.2" x2="272.7" y2="126.4" stroke="#000" stroke-width="2.2"/>
<text x="266.2" y="131.8" font-size="6.30" font-family="Liberation Sans, Arial, sans-serif" text-anchor="start" font-weight="bold" fill="#000" textLength="13.0" lengthAdjust="spacingAndGlyphs" stroke="#000" stroke-width="0.15">OVA</text>
<text x="257.7" y="16.4" font-size="9.30" font-family="Liberation Sans, Arial, sans-serif" text-anchor="middle" font-weight="bold" fill="#000" stroke="#000" stroke-width="0.15">CD62L</text>
<text transform="translate(212.7 97.1) rotate(-90)" font-size="8.8" font-family="Liberation Sans, Arial, sans-serif" text-anchor="start" font-weight="bold" stroke="#000" stroke-width="0.15" textLength="38.2" lengthAdjust="spacingAndGlyphs">% CD62L</text>
<text transform="translate(207.8 58.6) rotate(-90)" font-size="5" font-family="Liberation Sans, Arial, sans-serif" text-anchor="start" font-weight="bold" stroke="#000" stroke-width="0.1">hi</text>
<line x1="329.2" y1="35.5" x2="329.2" y2="30.0" stroke="#000" stroke-width="2.1"/>
<line x1="325.9" y1="30.8" x2="332.6" y2="30.8" stroke="#000" stroke-width="1.9"/>
<rect x="324.5" y="35.5" width="9.5" height="85.9" fill="#000"/>
<line x1="340.6" y1="36.3" x2="340.6" y2="35.0" stroke="#000" stroke-width="2.1"/>
<line x1="337.2" y1="35.8" x2="344.0" y2="35.8" stroke="#000" stroke-width="1.9"/>
<rect x="335.8" y="36.3" width="9.7" height="85.1" fill="#a3a3a3"/>
<line x1="360.6" y1="118.5" x2="360.6" y2="117.0" stroke="#000" stroke-width="2.1"/>
<line x1="357.2" y1="117.8" x2="364.0" y2="117.8" stroke="#000" stroke-width="1.9"/>
<rect x="356.0" y="118.5" width="9.3" height="2.9" fill="#000"/>
<line x1="371.6" y1="119.5" x2="371.6" y2="118.5" stroke="#000" stroke-width="2.1"/>
<line x1="368.2" y1="119.3" x2="375.0" y2="119.3" stroke="#000" stroke-width="1.9"/>
<rect x="367.0" y="119.5" width="9.3" height="1.9" fill="#a3a3a3"/>
<line x1="319.3" y1="27.0" x2="319.3" y2="122.8" stroke="#000" stroke-width="2.7"/>
<line x1="317.9" y1="121.4" x2="383.0" y2="121.4" stroke="#000" stroke-width="2.7"/>
<line x1="315.5" y1="35.7" x2="319.3" y2="35.7" stroke="#000" stroke-width="2.3"/>
<text x="314.3" y="37.9" font-size="6.20" font-family="Liberation Sans, Arial, sans-serif" text-anchor="end" font-weight="bold" fill="#000" stroke="#000" stroke-width="0.15">6000</text>
<line x1="315.5" y1="50.0" x2="319.3" y2="50.0" stroke="#000" stroke-width="2.3"/>
<text x="314.3" y="52.2" font-size="6.20" font-family="Liberation Sans, Arial, sans-serif" text-anchor="end" font-weight="bold" fill="#000" stroke="#000" stroke-width="0.15">5000</text>
<line x1="315.5" y1="64.3" x2="319.3" y2="64.3" stroke="#000" stroke-width="2.3"/>
<text x="314.3" y="66.5" font-size="6.20" font-family="Liberation Sans, Arial, sans-serif" text-anchor="end" font-weight="bold" fill="#000" stroke="#000" stroke-width="0.15">4000</text>
<line x1="315.5" y1="78.6" x2="319.3" y2="78.6" stroke="#000" stroke-width="2.3"/>
<text x="314.3" y="80.8" font-size="6.20" font-family="Liberation Sans, Arial, sans-serif" text-anchor="end" font-weight="bold" fill="#000" stroke="#000" stroke-width="0.15">3000</text>
<line x1="315.5" y1="92.9" x2="319.3" y2="92.9" stroke="#000" stroke-width="2.3"/>
<text x="314.3" y="95.1" font-size="6.20" font-family="Liberation Sans, Arial, sans-serif" text-anchor="end" font-weight="bold" fill="#000" stroke="#000" stroke-width="0.15">2000</text>
<line x1="315.5" y1="107.1" x2="319.3" y2="107.1" stroke="#000" stroke-width="2.3"/>
<text x="314.3" y="109.3" font-size="6.20" font-family="Liberation Sans, Arial, sans-serif" text-anchor="end" font-weight="bold" fill="#000" stroke="#000" stroke-width="0.15">1000</text>
<line x1="315.5" y1="121.4" x2="319.3" y2="121.4" stroke="#000" stroke-width="2.3"/>
<text x="314.3" y="123.6" font-size="6.20" font-family="Liberation Sans, Arial, sans-serif" text-anchor="end" font-weight="bold" fill="#000" stroke="#000" stroke-width="0.15">0</text>
<line x1="335.4" y1="121.4" x2="335.4" y2="125.6" stroke="#000" stroke-width="2.2"/>
<text x="323.1" y="131.5" font-size="6.30" font-family="Liberation Sans, Arial, sans-serif" text-anchor="start" font-weight="bold" fill="#000" textLength="24.6" lengthAdjust="spacingAndGlyphs" stroke="#000" stroke-width="0.15">No Stim</text>
<line x1="366.6" y1="121.4" x2="366.6" y2="125.6" stroke="#000" stroke-width="2.2"/>
<text x="360.0" y="131.5" font-size="6.30" font-family="Liberation Sans, Arial, sans-serif" text-anchor="start" font-weight="bold" fill="#000" textLength="13.1" lengthAdjust="spacingAndGlyphs" stroke="#000" stroke-width="0.15">OVA</text>
<text x="348.8" y="17.0" font-size="8.40" font-family="Liberation Sans, Arial, sans-serif" text-anchor="middle" font-weight="bold" fill="#000" stroke="#000" stroke-width="0.15">CD43</text>
<text transform="translate(299.9 75.7) rotate(-90)" font-size="8" font-family="Liberation Sans, Arial, sans-serif" text-anchor="middle" font-weight="bold" textLength="12.5" lengthAdjust="spacingAndGlyphs" stroke="#000" stroke-width="0.15">MFI</text>
<line x1="419.6" y1="88.8" x2="419.6" y2="69.2" stroke="#000" stroke-width="2.1"/>
<line x1="416.2" y1="70.0" x2="423.0" y2="70.0" stroke="#000" stroke-width="1.9"/>
<rect x="414.6" y="88.8" width="10.0" height="34.6" fill="#000"/>
<line x1="431.4" y1="97.0" x2="431.4" y2="79.5" stroke="#000" stroke-width="2.1"/>
<line x1="428.0" y1="80.3" x2="434.8" y2="80.3" stroke="#000" stroke-width="1.9"/>
<rect x="426.4" y="97.0" width="9.9" height="26.4" fill="#a3a3a3"/>
<line x1="450.9" y1="92.6" x2="450.9" y2="91.3" stroke="#000" stroke-width="2.1"/>
<line x1="447.6" y1="92.1" x2="454.3" y2="92.1" stroke="#000" stroke-width="1.9"/>
<rect x="446.0" y="92.6" width="9.9" height="30.8" fill="#000"/>
<line x1="462.7" y1="90.7" x2="462.7" y2="85.2" stroke="#000" stroke-width="2.1"/>
<line x1="459.3" y1="86.0" x2="466.1" y2="86.0" stroke="#000" stroke-width="1.9"/>
<rect x="457.8" y="90.7" width="9.8" height="32.7" fill="#a3a3a3"/>
<line x1="410.3" y1="28.5" x2="410.3" y2="124.8" stroke="#000" stroke-width="2.7"/>
<line x1="408.9" y1="123.4" x2="473.8" y2="123.4" stroke="#000" stroke-width="2.7"/>
<line x1="406.5" y1="29.3" x2="410.3" y2="29.3" stroke="#000" stroke-width="2.3"/>
<text x="405.3" y="31.5" font-size="6.20" font-family="Liberation Sans, Arial, sans-serif" text-anchor="end" font-weight="bold" fill="#000" stroke="#000" stroke-width="0.15">3000</text>
<line x1="406.5" y1="60.6" x2="410.3" y2="60.6" stroke="#000" stroke-width="2.3"/>
<text x="405.3" y="62.8" font-size="6.20" font-family="Liberation Sans, Arial, sans-serif" text-anchor="end" font-weight="bold" fill="#000" stroke="#000" stroke-width="0.15">2000</text>
<line x1="406.5" y1="92.0" x2="410.3" y2="92.0" stroke="#000" stroke-width="2.3"/>
<text x="405.3" y="94.2" font-size="6.20" font-family="Liberation Sans, Arial, sans-serif" text-anchor="end" font-weight="bold" fill="#000" stroke="#000" stroke-width="0.15">1000</text>
<line x1="406.5" y1="123.4" x2="410.3" y2="123.4" stroke="#000" stroke-width="2.3"/>
<text x="405.3" y="125.6" font-size="6.20" font-family="Liberation Sans, Arial, sans-serif" text-anchor="end" font-weight="bold" fill="#000" stroke="#000" stroke-width="0.15">0</text>
<line x1="425.6" y1="123.4" x2="425.6" y2="127.6" stroke="#000" stroke-width="2.2"/>
<text x="413.5" y="132.2" font-size="6.30" font-family="Liberation Sans, Arial, sans-serif" text-anchor="start" font-weight="bold" fill="#000" textLength="24.2" lengthAdjust="spacingAndGlyphs" stroke="#000" stroke-width="0.15">No Stim</text>
<line x1="456.9" y1="123.4" x2="456.9" y2="127.6" stroke="#000" stroke-width="2.2"/>
<text x="450.5" y="132.2" font-size="6.30" font-family="Liberation Sans, Arial, sans-serif" text-anchor="start" font-weight="bold" fill="#000" textLength="12.9" lengthAdjust="spacingAndGlyphs" stroke="#000" stroke-width="0.15">OVA</text>
<text x="439.0" y="18.3" font-size="8.40" font-family="Liberation Sans, Arial, sans-serif" text-anchor="middle" font-weight="bold" fill="#000" stroke="#000" stroke-width="0.15">CD69</text>
<text transform="translate(385.6 77.0) rotate(-90)" font-size="8" font-family="Liberation Sans, Arial, sans-serif" text-anchor="middle" font-weight="bold" textLength="12.5" lengthAdjust="spacingAndGlyphs" stroke="#000" stroke-width="0.15">MFI</text>
<rect x="458.1" y="24.2" width="16" height="7.6" fill="#000"/>
<rect x="458.1" y="35.6" width="16" height="7.3" fill="#a3a3a3"/>
<text x="476.0" y="30.7" font-size="7.00" font-family="Liberation Sans, Arial, sans-serif" text-anchor="start" font-weight="normal" fill="#000" textLength="42.3" lengthAdjust="spacingAndGlyphs" stroke="#000" stroke-width="0.12">No Treatment</text>
<text x="475.6" y="42.2" font-size="7.00" font-family="Liberation Sans, Arial, sans-serif" text-anchor="start" font-weight="normal" fill="#000" textLength="33.5" lengthAdjust="spacingAndGlyphs" stroke="#000" stroke-width="0.12">Anti-LFA-1</text>
<line x1="236.2" y1="166.8" x2="236.2" y2="161.5" stroke="#000" stroke-width="2.1"/>
<line x1="232.8" y1="162.3" x2="239.7" y2="162.3" stroke="#000" stroke-width="1.9"/>
<rect x="232.2" y="166.8" width="8.1" height="88.9" fill="#000"/>
<line x1="248.2" y1="165.0" x2="248.2" y2="163.0" stroke="#000" stroke-width="2.1"/>
<line x1="244.8" y1="163.8" x2="251.7" y2="163.8" stroke="#000" stroke-width="1.9"/>
<rect x="244.3" y="165.0" width="7.9" height="90.7" fill="#a3a3a3"/>
<line x1="268.5" y1="210.5" x2="268.5" y2="190.3" stroke="#000" stroke-width="2.1"/>
<line x1="265.1" y1="191.1" x2="271.9" y2="191.1" stroke="#000" stroke-width="1.9"/>
<rect x="264.6" y="210.5" width="7.8" height="45.2" fill="#000"/>
<line x1="280.2" y1="201.0" x2="280.2" y2="175.3" stroke="#000" stroke-width="2.1"/>
<line x1="276.9" y1="176.1" x2="283.6" y2="176.1" stroke="#000" stroke-width="1.9"/>
<rect x="276.5" y="201.0" width="7.5" height="54.7" fill="#a3a3a3"/>
<line x1="225.6" y1="160.0" x2="225.6" y2="257.1" stroke="#000" stroke-width="2.7"/>
<line x1="224.2" y1="255.7" x2="291.0" y2="255.7" stroke="#000" stroke-width="2.7"/>
<line x1="221.2" y1="161.3" x2="225.6" y2="161.3" stroke="#000" stroke-width="2.3"/>
<text x="221.1" y="163.6" font-size="6.40" font-family="Liberation Sans, Arial, sans-serif" text-anchor="end" font-weight="bold" fill="#000" stroke="#000" stroke-width="0.15">75</text>
<line x1="221.2" y1="192.8" x2="225.6" y2="192.8" stroke="#000" stroke-width="2.3"/>
<text x="221.1" y="195.1" font-size="6.40" font-family="Liberation Sans, Arial, sans-serif" text-anchor="end" font-weight="bold" fill="#000" stroke="#000" stroke-width="0.15">50</text>
<line x1="221.2" y1="224.2" x2="225.6" y2="224.2" stroke="#000" stroke-width="2.3"/>
<text x="221.1" y="226.5" font-size="6.40" font-family="Liberation Sans, Arial, sans-serif" text-anchor="end" font-weight="bold" fill="#000" stroke="#000" stroke-width="0.15">25</text>
<line x1="221.2" y1="255.7" x2="225.6" y2="255.7" stroke="#000" stroke-width="2.3"/>
<text x="221.1" y="258.0" font-size="6.40" font-family="Liberation Sans, Arial, sans-serif" text-anchor="end" font-weight="bold" fill="#000" stroke="#000" stroke-width="0.15">0</text>
<line x1="241.5" y1="255.7" x2="241.5" y2="259.9" stroke="#000" stroke-width="2.2"/>
<text x="229.2" y="265.6" font-size="6.30" font-family="Liberation Sans, Arial, sans-serif" text-anchor="start" font-weight="bold" fill="#000" textLength="24.6" lengthAdjust="spacingAndGlyphs" stroke="#000" stroke-width="0.15">No Stim</text>
<line x1="273.4" y1="255.7" x2="273.4" y2="259.9" stroke="#000" stroke-width="2.2"/>
<text x="266.9" y="265.6" font-size="6.30" font-family="Liberation Sans, Arial, sans-serif" text-anchor="start" font-weight="bold" fill="#000" textLength="13.1" lengthAdjust="spacingAndGlyphs" stroke="#000" stroke-width="0.15">OVA</text>
<text x="258.0" y="150.0" font-size="9.10" font-family="Liberation Sans, Arial, sans-serif" text-anchor="middle" font-weight="bold" fill="#000" stroke="#000" stroke-width="0.15">CD62L</text>
<text transform="translate(212.9 232.4) rotate(-90)" font-size="8.8" font-family="Liberation Sans, Arial, sans-serif" text-anchor="start" font-weight="bold" stroke="#000" stroke-width="0.15" textLength="39.2" lengthAdjust="spacingAndGlyphs">% CD62L</text>
<text transform="translate(208.5 193.1) rotate(-90)" font-size="5" font-family="Liberation Sans, Arial, sans-serif" text-anchor="start" font-weight="bold" stroke="#000" stroke-width="0.1">hi</text>
<line x1="329.6" y1="192.0" x2="329.6" y2="185.3" stroke="#000" stroke-width="2.1"/>
<line x1="326.2" y1="186.1" x2="333.0" y2="186.1" stroke="#000" stroke-width="1.9"/>
<rect x="324.6" y="192.0" width="10.0" height="64.4" fill="#000"/>
<line x1="342.0" y1="172.5" x2="342.0" y2="164.2" stroke="#000" stroke-width="2.1"/>
<line x1="338.6" y1="165.0" x2="345.4" y2="165.0" stroke="#000" stroke-width="1.9"/>
<rect x="337.3" y="172.5" width="9.4" height="83.9" fill="#a3a3a3"/>
<line x1="360.9" y1="252.3" x2="360.9" y2="251.8" stroke="#000" stroke-width="2.1"/>
<line x1="357.6" y1="252.6" x2="364.3" y2="252.6" stroke="#000" stroke-width="1.9"/>
<rect x="356.2" y="252.3" width="9.5" height="4.1" fill="#000"/>
<line x1="372.8" y1="252.8" x2="372.8" y2="251.0" stroke="#000" stroke-width="2.1"/>
<line x1="369.4" y1="251.8" x2="376.2" y2="251.8" stroke="#000" stroke-width="1.9"/>
<rect x="368.2" y="252.8" width="9.2" height="3.6" fill="#a3a3a3"/>
<line x1="319.8" y1="160.5" x2="319.8" y2="257.8" stroke="#000" stroke-width="2.7"/>
<line x1="318.4" y1="256.4" x2="383.8" y2="256.4" stroke="#000" stroke-width="2.7"/>
<line x1="316.0" y1="176.0" x2="319.8" y2="176.0" stroke="#000" stroke-width="2.3"/>
<text x="314.8" y="178.2" font-size="6.20" font-family="Liberation Sans, Arial, sans-serif" text-anchor="end" font-weight="bold" fill="#000" stroke="#000" stroke-width="0.15">3000</text>
<line x1="316.0" y1="202.8" x2="319.8" y2="202.8" stroke="#000" stroke-width="2.3"/>
<text x="314.8" y="205.0" font-size="6.20" font-family="Liberation Sans, Arial, sans-serif" text-anchor="end" font-weight="bold" fill="#000" stroke="#000" stroke-width="0.15">2000</text>
<line x1="316.0" y1="229.6" x2="319.8" y2="229.6" stroke="#000" stroke-width="2.3"/>
<text x="314.8" y="231.8" font-size="6.20" font-family="Liberation Sans, Arial, sans-serif" text-anchor="end" font-weight="bold" fill="#000" stroke="#000" stroke-width="0.15">1000</text>
<line x1="316.0" y1="256.4" x2="319.8" y2="256.4" stroke="#000" stroke-width="2.3"/>
<text x="314.8" y="258.6" font-size="6.20" font-family="Liberation Sans, Arial, sans-serif" text-anchor="end" font-weight="bold" fill="#000" stroke="#000" stroke-width="0.15">0</text>
<line x1="335.9" y1="256.4" x2="335.9" y2="260.6" stroke="#000" stroke-width="2.2"/>
<text x="323.5" y="265.6" font-size="6.30" font-family="Liberation Sans, Arial, sans-serif" text-anchor="start" font-weight="bold" fill="#000" textLength="24.7" lengthAdjust="spacingAndGlyphs" stroke="#000" stroke-width="0.15">No Stim</text>
<line x1="366.9" y1="256.4" x2="366.9" y2="260.6" stroke="#000" stroke-width="2.2"/>
<text x="360.5" y="265.6" font-size="6.30" font-family="Liberation Sans, Arial, sans-serif" text-anchor="start" font-weight="bold" fill="#000" textLength="12.9" lengthAdjust="spacingAndGlyphs" stroke="#000" stroke-width="0.15">OVA</text>
<text x="349.3" y="151.5" font-size="8.40" font-family="Liberation Sans, Arial, sans-serif" text-anchor="middle" font-weight="bold" fill="#000" stroke="#000" stroke-width="0.15">CD43</text>
<text transform="translate(300.6 210.8) rotate(-90)" font-size="8" font-family="Liberation Sans, Arial, sans-serif" text-anchor="middle" font-weight="bold" textLength="12.5" lengthAdjust="spacingAndGlyphs" stroke="#000" stroke-width="0.15">MFI</text>
<line x1="419.3" y1="234.0" x2="419.3" y2="233.0" stroke="#000" stroke-width="2.1"/>
<line x1="415.9" y1="233.8" x2="422.7" y2="233.8" stroke="#000" stroke-width="1.9"/>
<rect x="414.6" y="234.0" width="9.4" height="22.0" fill="#000"/>
<line x1="430.9" y1="235.4" x2="430.9" y2="234.5" stroke="#000" stroke-width="2.1"/>
<line x1="427.5" y1="235.3" x2="434.2" y2="235.3" stroke="#000" stroke-width="1.9"/>
<rect x="426.2" y="235.4" width="9.3" height="20.6" fill="#a3a3a3"/>
<line x1="450.4" y1="200.3" x2="450.4" y2="162.7" stroke="#000" stroke-width="2.1"/>
<line x1="447.0" y1="163.5" x2="453.8" y2="163.5" stroke="#000" stroke-width="1.9"/>
<rect x="445.6" y="200.3" width="9.6" height="55.7" fill="#000"/>
<line x1="462.5" y1="215.3" x2="462.5" y2="192.0" stroke="#000" stroke-width="2.1"/>
<line x1="459.1" y1="192.8" x2="465.9" y2="192.8" stroke="#000" stroke-width="1.9"/>
<rect x="457.7" y="215.3" width="9.7" height="40.7" fill="#a3a3a3"/>
<line x1="410.3" y1="161.0" x2="410.3" y2="257.4" stroke="#000" stroke-width="2.7"/>
<line x1="408.9" y1="256.0" x2="473.5" y2="256.0" stroke="#000" stroke-width="2.7"/>
<line x1="406.5" y1="161.7" x2="410.3" y2="161.7" stroke="#000" stroke-width="2.3"/>
<text x="405.3" y="163.9" font-size="6.20" font-family="Liberation Sans, Arial, sans-serif" text-anchor="end" font-weight="bold" fill="#000" stroke="#000" stroke-width="0.15">800</text>
<line x1="406.5" y1="173.5" x2="410.3" y2="173.5" stroke="#000" stroke-width="2.3"/>
<text x="405.3" y="175.7" font-size="6.20" font-family="Liberation Sans, Arial, sans-serif" text-anchor="end" font-weight="bold" fill="#000" stroke="#000" stroke-width="0.15">700</text>
<line x1="406.5" y1="185.3" x2="410.3" y2="185.3" stroke="#000" stroke-width="2.3"/>
<text x="405.3" y="187.5" font-size="6.20" font-family="Liberation Sans, Arial, sans-serif" text-anchor="end" font-weight="bold" fill="#000" stroke="#000" stroke-width="0.15">600</text>
<line x1="406.5" y1="197.1" x2="410.3" y2="197.1" stroke="#000" stroke-width="2.3"/>
<text x="405.3" y="199.3" font-size="6.20" font-family="Liberation Sans, Arial, sans-serif" text-anchor="end" font-weight="bold" fill="#000" stroke="#000" stroke-width="0.15">500</text>
<line x1="406.5" y1="208.8" x2="410.3" y2="208.8" stroke="#000" stroke-width="2.3"/>
<text x="405.3" y="211.1" font-size="6.20" font-family="Liberation Sans, Arial, sans-serif" text-anchor="end" font-weight="bold" fill="#000" stroke="#000" stroke-width="0.15">400</text>
<line x1="406.5" y1="220.6" x2="410.3" y2="220.6" stroke="#000" stroke-width="2.3"/>
<text x="405.3" y="222.9" font-size="6.20" font-family="Liberation Sans, Arial, sans-serif" text-anchor="end" font-weight="bold" fill="#000" stroke="#000" stroke-width="0.15">300</text>
<line x1="406.5" y1="232.4" x2="410.3" y2="232.4" stroke="#000" stroke-width="2.3"/>
<text x="405.3" y="234.7" font-size="6.20" font-family="Liberation Sans, Arial, sans-serif" text-anchor="end" font-weight="bold" fill="#000" stroke="#000" stroke-width="0.15">200</text>
<line x1="406.5" y1="244.2" x2="410.3" y2="244.2" stroke="#000" stroke-width="2.3"/>
<text x="405.3" y="246.4" font-size="6.20" font-family="Liberation Sans, Arial, sans-serif" text-anchor="end" font-weight="bold" fill="#000" stroke="#000" stroke-width="0.15">100</text>
<line x1="406.5" y1="256.0" x2="410.3" y2="256.0" stroke="#000" stroke-width="2.3"/>
<text x="405.3" y="258.2" font-size="6.20" font-family="Liberation Sans, Arial, sans-serif" text-anchor="end" font-weight="bold" fill="#000" stroke="#000" stroke-width="0.15">0</text>
<line x1="425.4" y1="256.0" x2="425.4" y2="260.2" stroke="#000" stroke-width="2.2"/>
<text x="413.1" y="265.6" font-size="6.30" font-family="Liberation Sans, Arial, sans-serif" text-anchor="start" font-weight="bold" fill="#000" textLength="24.6" lengthAdjust="spacingAndGlyphs" stroke="#000" stroke-width="0.15">No Stim</text>
<line x1="456.7" y1="256.0" x2="456.7" y2="260.2" stroke="#000" stroke-width="2.2"/>
<text x="450.0" y="265.6" font-size="6.30" font-family="Liberation Sans, Arial, sans-serif" text-anchor="start" font-weight="bold" fill="#000" textLength="13.4" lengthAdjust="spacingAndGlyphs" stroke="#000" stroke-width="0.15">OVA</text>
<text x="439.7" y="150.7" font-size="8.40" font-family="Liberation Sans, Arial, sans-serif" text-anchor="middle" font-weight="bold" fill="#000" stroke="#000" stroke-width="0.15">CD69</text>
<text transform="translate(390.0 210.6) rotate(-90)" font-size="8" font-family="Liberation Sans, Arial, sans-serif" text-anchor="middle" font-weight="bold" textLength="12.5" lengthAdjust="spacingAndGlyphs" stroke="#000" stroke-width="0.15">MFI</text>
<rect x="459.8" y="158.9" width="15.8" height="7.4" fill="#000"/>
<rect x="459.8" y="170.5" width="15.8" height="7.4" fill="#a3a3a3"/>
<text x="477.7" y="165.4" font-size="7.00" font-family="Liberation Sans, Arial, sans-serif" text-anchor="start" font-weight="normal" fill="#000" textLength="42.6" lengthAdjust="spacingAndGlyphs" stroke="#000" stroke-width="0.12">No Treatment</text>
<text x="477.3" y="176.7" font-size="7.00" font-family="Liberation Sans, Arial, sans-serif" text-anchor="start" font-weight="normal" fill="#000" textLength="33.7" lengthAdjust="spacingAndGlyphs" stroke="#000" stroke-width="0.12">Anti-LFA-1</text>
</svg>
</body></html>
